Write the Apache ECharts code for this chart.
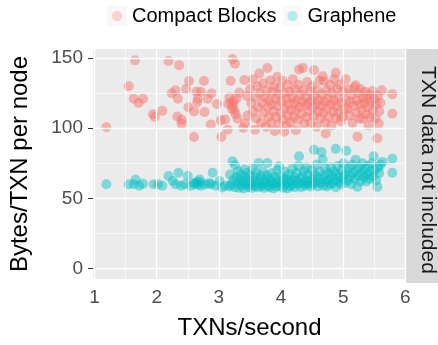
<!DOCTYPE html>
<html>
<head>
<meta charset="utf-8">
<script src="https://cdn.jsdelivr.net/npm/echarts@6/dist/echarts.min.js"></script>
<style>
	html, body { margin: 0; padding: 0; background: #fff; }
	#chart { width: 438px; height: 345px; }
</style>
</head>
<body>
<div id="chart"></div>
<script>
/* 刻度 */
var xTicks = [1, 2, 3, 4, 5, 6];
var xMinor = [1.5, 2.5, 3.5, 4.5, 5.5];
var yTicks = [0, 50, 100, 150];
var yMinor = [25, 75, 125];
var seriesNames = ["Compact Blocks", "Graphene"];
var stripText = "TXN data not included";

/* Compact Blocks: [TXNs/second, Bytes/TXN] */
var compactBlocks = [
	[1.19, 100.7], [1.55, 130], [1.63, 121], [1.65, 148.4], [1.71, 118], [1.78, 121], [1.94, 110], [1.97, 108],
	[2.09, 112.4], [2.19, 148], [2.24, 125], [2.30, 127], [2.34, 121], [2.33, 108.4], [2.36, 145], [2.40, 106],
	[2.40, 103.3], [2.47, 128], [2.52, 133.7], [2.51, 115], [2.60, 93.7], [2.60, 112], [2.64, 126], [2.66, 121],
	[2.65, 118.5], [2.71, 126], [2.76, 133.7], [2.77, 111.5], [2.82, 121], [2.88, 124.8], [2.87, 102.6], [2.97, 117.3],
	[3.03, 105.6], [3.04, 93.7], [3.10, 106.3], [3.14, 99], [3.17, 122], [3.19, 133.7], [3.22, 149.4], [3.26, 146],
	[3.24, 119.6], [3.25, 112.6], [3.30, 106.8], [3.33, 125.5], [3.41, 134.4], [3.39, 100.3], [3.45, 123], [3.42, 103.3],
	[3.46, 109], [3.20, 118], [3.23, 116], [3.28, 121], [3.21, 114], [3.15, 117.5], [3.27, 110],
	[3.50, 128], [3.52, 118], [3.55, 112], [3.55, 135], [3.58, 99], [3.58, 122], [3.60, 107], [3.62, 130],
	[3.63, 115], [3.65, 139], [3.66, 125], [3.68, 104], [3.70, 118], [3.71, 132], [3.72, 111], [3.74, 122],
	[3.76, 101], [3.77, 127], [3.78, 143], [3.79, 115], [3.80, 108], [3.81, 120], [3.83, 134], [3.84, 104],
	[3.85, 117], [3.86, 126], [3.88, 112], [3.89, 130], [3.90, 98], [3.91, 121], [3.92, 108], [3.94, 136.7],
	[3.95, 116], [3.96, 124], [3.97, 103], [3.98, 129], [4.00, 111], [4.01, 119], [4.02, 134], [4.03, 106],
	[4.05, 97.5], [4.05, 125], [4.06, 114], [4.08, 121], [4.09, 102], [4.10, 131], [4.11, 109], [4.12, 117],
	[4.14, 126], [4.15, 104], [4.16, 113], [4.18, 122], [4.19, 135], [4.20, 108], [4.21, 118], [4.22, 128],
	[4.24, 98.6], [4.24, 113], [4.25, 120], [4.27, 106], [4.28, 131], [4.29, 141.9], [4.30, 115], [4.31, 124],
	[4.33, 110], [4.34, 119], [4.35, 143], [4.36, 127], [4.37, 103], [4.39, 116], [4.40, 122], [4.41, 108],
	[4.42, 133], [4.44, 118], [4.45, 112], [4.46, 126], [4.48, 104], [4.49, 120], [4.50, 130], [4.51, 115],
	[4.53, 141.4], [4.53, 109], [4.54, 123], [4.56, 117], [4.57, 101], [4.58, 127], [4.60, 112], [4.61, 120],
	[4.62, 134], [4.63, 107], [4.65, 116], [4.66, 124], [4.67, 137], [4.68, 111], [4.69, 133.7], [4.70, 119],
	[4.71, 104], [4.72, 96.3], [4.73, 127], [4.74, 114], [4.76, 121], [4.77, 108], [4.79, 131], [4.80, 117],
	[4.81, 102], [4.82, 125], [4.84, 112], [4.85, 120], [4.86, 135], [4.88, 139.5], [4.88, 107], [4.89, 116],
	[4.90, 128], [4.92, 111], [4.93, 122], [4.95, 131], [4.96, 105], [4.97, 118], [4.99, 108], [5.00, 126],
	[5.02, 114], [5.04, 134.9], [5.05, 120], [5.07, 113.8], [5.08, 128], [5.10, 109], [5.12, 119], [5.13, 124],
	[5.15, 104], [5.17, 116], [5.18, 129], [5.20, 130.6], [5.21, 111], [5.22, 120], [5.23, 94], [5.24, 125],
	[5.26, 107], [5.27, 117], [5.28, 127.8], [5.30, 113], [5.31, 106.8], [5.32, 122], [5.34, 118], [5.35, 126],
	[5.37, 110], [5.38, 121], [5.40, 115], [5.41, 102], [5.42, 124], [5.44, 108], [5.45, 119], [5.47, 126.6],
	[5.48, 113], [5.50, 121], [5.52, 107], [5.53, 117], [5.55, 92.8], [5.56, 123], [5.57, 103.3], [5.58, 112],
	[5.60, 118], [5.62, 127], [5.79, 124.3], [5.79, 110.3]
];

/* Graphene */
var graphene = [
	[1.19, 60], [1.55, 60], [1.63, 60], [1.66, 63.5], [1.72, 59], [1.78, 60.5], [1.95, 60], [2.02, 60],
	[2.09, 59], [2.19, 66], [2.26, 62.4], [2.30, 60], [2.35, 68.2], [2.39, 59], [2.45, 60], [2.50, 66],
	[2.55, 59], [2.60, 60.5], [2.62, 61], [2.65, 62], [2.66, 59.5], [2.69, 63.5], [2.70, 61.5], [2.72, 59],
	[2.79, 60], [2.85, 61], [2.87, 60], [2.90, 68.2], [2.95, 59], [3.01, 62.4], [3.05, 57.7], [3.10, 59],
	[3.17, 58.4], [3.18, 67], [3.22, 76.4], [3.26, 73.6], [3.30, 69.4], [3.41, 70.5],
	[3.20, 60], [3.23, 63], [3.25, 58], [3.28, 65], [3.30, 61], [3.32, 57.5], [3.34, 63.5], [3.35, 67],
	[3.37, 59.5], [3.39, 62], [3.40, 57], [3.42, 65], [3.44, 60.5], [3.45, 68], [3.47, 58], [3.48, 63],
	[3.50, 66], [3.51, 60], [3.53, 57.5], [3.54, 71], [3.56, 62.5], [3.57, 59], [3.59, 65], [3.60, 68.5],
	[3.62, 58], [3.63, 61.5], [3.64, 75.2], [3.65, 63], [3.67, 58.5], [3.68, 66], [3.70, 60], [3.71, 69],
	[3.73, 57.5], [3.74, 63], [3.76, 61], [3.77, 66.5], [3.78, 75.2], [3.79, 59], [3.81, 64], [3.82, 58],
	[3.84, 62], [3.85, 68], [3.87, 60], [3.88, 57], [3.90, 65], [3.91, 61.5], [3.93, 58.5], [3.94, 70],
	[3.96, 63], [3.97, 72.9], [3.98, 59], [4.00, 66], [4.01, 61], [4.03, 57.5], [4.04, 63.5], [4.06, 69],
	[4.07, 59.5], [4.09, 64], [4.10, 57], [4.12, 61], [4.13, 67], [4.15, 58.5], [4.16, 63], [4.18, 71],
	[4.19, 60], [4.21, 65], [4.22, 58], [4.24, 62.5], [4.25, 68], [4.27, 60.5], [4.28, 73], [4.29, 80],
	[4.31, 64], [4.32, 58], [4.34, 66], [4.35, 61], [4.37, 69.5], [4.38, 59], [4.40, 63], [4.41, 72],
	[4.43, 60], [4.44, 66.5], [4.46, 62], [4.47, 58.5], [4.49, 70], [4.50, 64], [4.52, 60], [4.53, 84.6],
	[4.54, 67], [4.56, 61.5], [4.57, 74], [4.59, 58.5], [4.60, 65], [4.62, 69], [4.63, 61], [4.65, 83],
	[4.66, 63.5], [4.67, 77.6], [4.68, 59], [4.70, 66], [4.71, 71], [4.73, 62], [4.74, 58.5], [4.76, 68],
	[4.77, 64], [4.79, 60], [4.80, 72], [4.82, 66], [4.83, 61], [4.85, 69], [4.86, 63], [4.88, 85.3],
	[4.88, 58], [4.90, 67], [4.91, 73], [4.93, 62], [4.94, 65], [4.96, 60], [4.97, 70], [4.99, 64],
	[5.00, 75], [5.02, 67], [5.03, 61], [5.05, 83.9], [5.06, 69], [5.08, 63], [5.10, 72], [5.11, 66],
	[5.13, 60], [5.14, 74], [5.16, 68], [5.18, 64], [5.20, 77.6], [5.21, 70], [5.23, 58.2], [5.24, 66],
	[5.26, 72], [5.28, 62], [5.30, 68], [5.31, 75], [5.33, 65], [5.35, 71], [5.37, 62], [5.38, 67],
	[5.40, 73], [5.42, 64], [5.44, 69], [5.46, 75], [5.48, 66], [5.49, 80], [5.51, 70], [5.53, 63],
	[5.55, 58.2], [5.56, 72], [5.58, 68], [5.60, 74], [5.63, 76], [5.79, 78.3], [5.79, 68.2]
];

window.onload = function() {
	var chart = echarts.init(document.getElementById("chart"));
	var font = "'Liberation Sans', Arial, sans-serif";

	/* 图例小方块 */
	function keyIcon(color) {
		var svg = '<svg xmlns="http://www.w3.org/2000/svg" width="20" height="20">' +
			'<rect width="20" height="20" fill="#F2F2F2"/>' +
			'<circle cx="10" cy="10" r="5.2" fill="' + color + '" fill-opacity="0.6"/></svg>';
		return 'image://data:image/svg+xml;charset=utf-8,' + encodeURIComponent(svg);
	}

	/* 网格线 */
	var gridLines = [];
	xTicks.forEach(function(v) { gridLines.push({ xAxis: v, lineStyle: { width: 1.3 } }) });
	xMinor.forEach(function(v) { gridLines.push({ xAxis: v, lineStyle: { width: 0.6 } }) });
	yTicks.forEach(function(v) { gridLines.push({ yAxis: v, lineStyle: { width: 1.3 } }) });
	yMinor.forEach(function(v) { gridLines.push({ yAxis: v, lineStyle: { width: 0.6 } }) });

	var option = {
		animation: false,
		textStyle: { fontFamily: font },
		grid: {
			left: 92,
			right: 32,
			top: 49,
			bottom: 62,
			show: true,
			backgroundColor: "#EBEBEB",
			borderWidth: 0
		},
		legend: {
			left: 107,
			top: 6,
			padding: 0,
			itemWidth: 20,
			itemHeight: 20,
			itemGap: 6,
			textStyle: { fontSize: 20, color: "#000", fontFamily: font },
			data: [
				{ name: seriesNames[0], icon: keyIcon("#F8766D") },
				{ name: seriesNames[1], icon: keyIcon("#00BFC4") }
			]
		},
		xAxis: {
			type: "value",
			min: 0.975,
			max: 6.01,
			name: "TXNs/second",
			nameLocation: "middle",
			nameGap: 37,
			nameTextStyle: { fontSize: 24, color: "#000", fontFamily: font },
			axisLine: { show: false },
			splitLine: { show: false },
			axisTick: { show: true, length: 5, lineStyle: { color: "#333", width: 1 }, customValues: xTicks },
			axisLabel: { fontSize: 19, color: "#4D4D4D", margin: 9, customValues: xTicks }
		},
		yAxis: {
			type: "value",
			min: -7.5,
			max: 156.5,
			name: "Bytes/TXN per node",
			nameLocation: "middle",
			nameRotate: 90,
			nameGap: 61,
			nameTextStyle: { fontSize: 24, color: "#000", fontFamily: font },
			axisLine: { show: false },
			splitLine: { show: false },
			axisTick: { show: true, length: 5, lineStyle: { color: "#333", width: 1 }, customValues: yTicks },
			axisLabel: { fontSize: 19, color: "#4D4D4D", margin: 10, customValues: yTicks }
		},
		graphic: [{
			type: "rect",
			left: 406,
			top: 49,
			shape: { width: 34, height: 234 },
			style: { fill: "#D9D9D9" }
		}, {
			type: "text",
			x: 428,
			y: 170,
			rotation: -Math.PI / 2,
			style: {
				text: stripText,
				fontSize: 21,
				fontFamily: font,
				fill: "#1A1A1A",
				align: "center",
				verticalAlign: "middle"
			}
		}],
		series: [{
			name: "grid",
			type: "scatter",
			data: [],
			z: 1,
			silent: true,
			markLine: {
				silent: true,
				symbol: "none",
				label: { show: false },
				lineStyle: { color: "#FFFFFF", type: "solid" },
				data: gridLines
			}
		}, {
			name: seriesNames[0],
			type: "scatter",
			z: 3,
			symbolSize: 10,
			itemStyle: { color: "#F8766D", opacity: 0.5 },
			data: compactBlocks
		}, {
			name: seriesNames[1],
			type: "scatter",
			z: 3,
			symbolSize: 10,
			itemStyle: { color: "#00BFC4", opacity: 0.45 },
			data: graphene
		}]
	};
	chart.setOption(option);
}
</script>
</body>
</html>
